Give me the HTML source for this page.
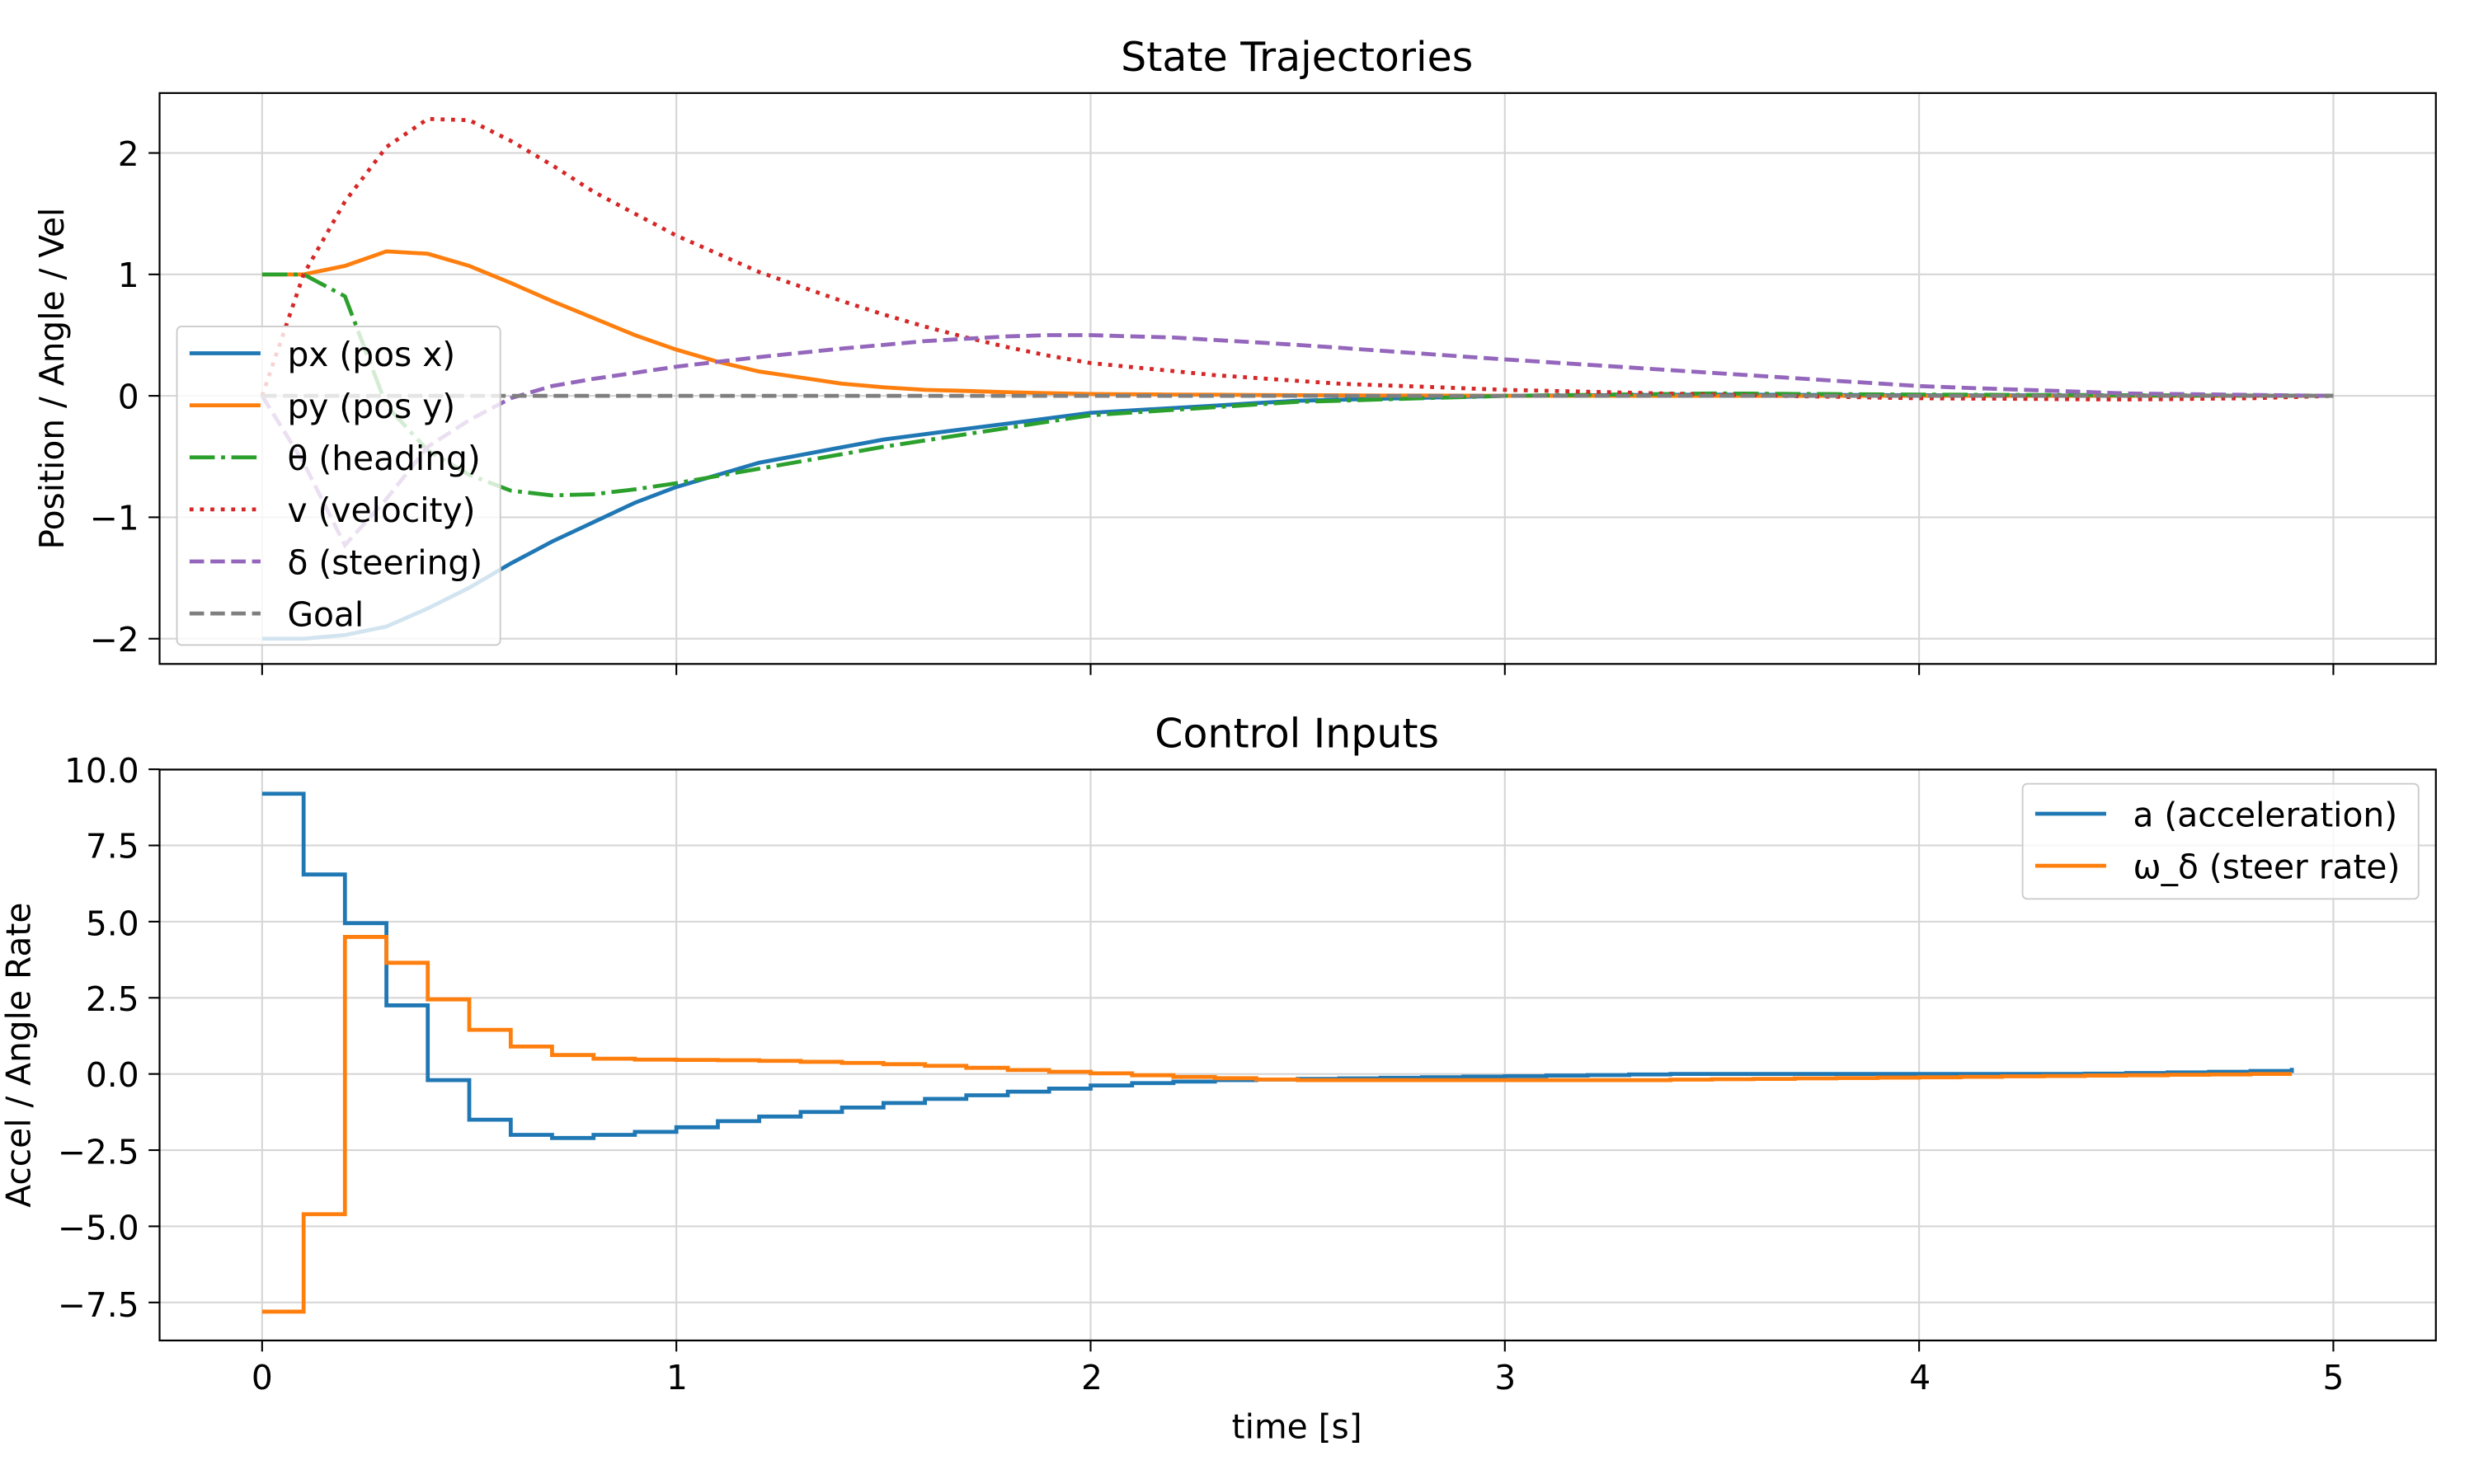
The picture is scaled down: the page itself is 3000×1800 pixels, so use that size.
<!DOCTYPE html>
<html><head><meta charset="utf-8"><style>html,body{margin:0;padding:0;background:#fff}svg{display:block}</style></head>
<body>
<svg id="s" width="3000" height="1800" viewBox="0 0 1568 941" xmlns="http://www.w3.org/2000/svg" font-family="'DejaVu Sans', sans-serif">
<rect width="1568" height="941" fill="#fff"/>
<g id="grid" stroke="#d6d6d6" stroke-width="1.1"></g>
<g id="series" fill="none" stroke-width="2.5"></g>
<g fill="none" stroke="#000" stroke-width="1.15">
<rect x="101" y="59" width="1443" height="362"/>
<rect x="101" y="488" width="1443" height="362"/>
</g>
<g id="ticks" stroke="#000" stroke-width="1.1"></g>
<g font-size="21.3" fill="#000">
<g text-anchor="end">
<text x="88" y="105">2</text><text x="88" y="182">1</text><text x="88" y="259">0</text><text x="88" y="336">−1</text><text x="88" y="413">−2</text>
<text x="88" y="496">10.0</text><text x="88" y="544">7.5</text><text x="88" y="593">5.0</text><text x="88" y="641">2.5</text><text x="88" y="689">0.0</text><text x="88" y="738">−2.5</text><text x="88" y="786">−5.0</text><text x="88" y="835">−7.5</text>
</g>
<g text-anchor="middle">
<text x="166" y="881">0</text><text x="429" y="881">1</text><text x="692" y="881">2</text><text x="954" y="881">3</text><text x="1217" y="881">4</text><text x="1479" y="881">5</text>
<text x="822" y="912">time [s]</text>
<text transform="translate(40,240) rotate(-90)">Position / Angle / Vel</text>
<text transform="translate(19,669) rotate(-90)">Accel / Angle Rate</text>
</g>
<g text-anchor="middle" font-size="25.6">
<text x="822" y="45">State Trajectories</text>
<text x="822" y="474">Control Inputs</text>
</g>
</g>
<g id="leg1">
<rect x="112" y="207" width="205" height="202" rx="3" fill="#fff" fill-opacity="0.8" stroke="#cccccc" stroke-width="1"/>
</g>
<g id="leg2">
<rect x="1282" y="497" width="251" height="73" rx="3" fill="#fff" fill-opacity="0.8" stroke="#cccccc" stroke-width="1"/>
</g>
<g font-size="21.3" fill="#000">
<text x="182" y="232">px (pos x)</text>
<text x="182" y="265">py (pos y)</text>
<text x="182" y="298">θ (heading)</text>
<text x="182" y="331">v (velocity)</text>
<text x="182" y="364">δ (steering)</text>
<text x="182" y="397">Goal</text>
<text x="1352" y="524">a (acceleration)</text>
<text x="1352" y="557">ω_δ (steer rate)</text>
</g>
<g id="legl" fill="none" stroke-width="2.5"></g>
</svg>
<script>
const NS="http://www.w3.org/2000/svg";
function el(p,tag,a){const e=document.createElementNS(NS,tag);for(const k in a)e.setAttribute(k,a[k]);document.getElementById(p).appendChild(e);return e;}
const X=t=>166+262.6*t, Y1=v=>251-77*v, Y2=v=>681-19.32*v;
for(let t=0;t<=5;t++){el('grid','line',{x1:X(t),x2:X(t),y1:59,y2:421});el('grid','line',{x1:X(t),x2:X(t),y1:488,y2:850});
 el('ticks','line',{x1:X(t),x2:X(t),y1:421,y2:428});el('ticks','line',{x1:X(t),x2:X(t),y1:850,y2:857});}
for(let v=-2;v<=2;v++){el('grid','line',{x1:101,x2:1544,y1:Y1(v),y2:Y1(v)});el('ticks','line',{x1:94,x2:101,y1:Y1(v),y2:Y1(v)});}
for(let v=-7.5;v<=10;v+=2.5){el('grid','line',{x1:101,x2:1544,y1:Y2(v),y2:Y2(v)});el('ticks','line',{x1:94,x2:101,y1:Y2(v),y2:Y2(v)});}
function interp(pts){const out=[];for(let i=0;i<=50;i++){const t=i/10;let j=0;while(j<pts.length-2&&pts[j+1][0]<t)j++;
 const [t0,v0]=pts[j],[t1,v1]=pts[j+1];const f=t1==t0?0:(t-t0)/(t1-t0);out.push([t,v0+(v1-v0)*Math.max(0,Math.min(1,f))]);}return out;}
function line(pts,col,dash){const p=interp(pts).map(q=>X(q[0]).toFixed(1)+','+Y1(q[1]).toFixed(1)).join(' ');
 const a={points:p,stroke:col};if(dash)a['stroke-dasharray']=dash;el('series','polyline',a);}
line([[0,-2],[0.1,-2],[0.2,-1.97],[0.3,-1.9],[0.4,-1.75],[0.5,-1.58],[0.6,-1.38],[0.7,-1.2],[0.8,-1.04],[0.9,-0.88],[1,-0.75],[1.2,-0.55],[1.5,-0.36],[2,-0.14],[2.5,-0.04],[3,0],[3.5,0.01],[4,0.005],[5,0]],'#1f77b4');
line([[0,1],[0.1,1],[0.2,1.07],[0.3,1.19],[0.4,1.17],[0.5,1.07],[0.6,0.93],[0.7,0.78],[0.8,0.64],[0.9,0.5],[1,0.38],[1.1,0.28],[1.2,0.2],[1.3,0.15],[1.4,0.1],[1.5,0.07],[1.6,0.05],[1.8,0.03],[2,0.015],[2.5,0.005],[3,0],[5,0]],'#ff7f0e');
line([[0,1],[0.1,1],[0.2,0.82],[0.3,-0.08],[0.4,-0.45],[0.5,-0.65],[0.6,-0.78],[0.7,-0.82],[0.8,-0.81],[0.9,-0.77],[1,-0.72],[1.2,-0.6],[1.5,-0.42],[2,-0.16],[2.5,-0.05],[3,0],[3.5,0.02],[4,0.01],[5,0]],'#2ca02c','16,4,2.5,4');
line([[0,0],[0.1,1.0],[0.2,1.6],[0.3,2.05],[0.4,2.28],[0.5,2.27],[0.6,2.1],[0.7,1.9],[0.8,1.68],[0.9,1.5],[1,1.32],[1.1,1.17],[1.2,1.02],[1.3,0.9],[1.4,0.78],[1.5,0.67],[1.6,0.57],[1.7,0.48],[1.8,0.4],[1.9,0.33],[2,0.27],[2.3,0.17],[2.6,0.1],[3,0.05],[3.5,0.01],[4,-0.02],[4.5,-0.03],[4.8,-0.02],[5,0]],'#d62728','2.5,4.1');
line([[0,0],[0.1,-0.55],[0.2,-1.23],[0.3,-0.85],[0.4,-0.42],[0.5,-0.2],[0.6,-0.02],[0.7,0.08],[0.8,0.14],[1,0.24],[1.2,0.32],[1.4,0.39],[1.6,0.45],[1.8,0.49],[1.9,0.5],[2,0.5],[2.2,0.48],[2.5,0.42],[3,0.3],[3.5,0.19],[4,0.08],[4.5,0.02],[5,0]],'#9467bd','9.2,4');
el('series','line',{x1:X(0),x2:X(5),y1:Y1(0),y2:Y1(0),stroke:'#7f7f7f','stroke-dasharray':'9.2,4'});
function steps(vals,col,endv){let p='';vals.forEach((v,i)=>{p+=(i?'L':'M')+X(i/10).toFixed(1)+','+Y2(v).toFixed(1)+'L'+X((i+1)/10).toFixed(1)+','+Y2(v).toFixed(1);});
 p+='L'+X(vals.length/10).toFixed(1)+','+Y2(endv).toFixed(1);
 el('series','path',{d:p,stroke:col});}
let a=[9.2,6.55,4.95,2.25,-0.2,-1.5,-2.0,-2.1,-2.0,-1.9,-1.75,-1.55,-1.4,-1.25,-1.1,-0.95,-0.82,-0.7,-0.58,-0.48,-0.38,-0.3,-0.25,-0.2,-0.18];
while(a.length<49){const k=a.length;const v=-0.18+0.18*(k-24)/10;a.push(v>0?0:v);}
a[44]=0.01;a[45]=0.03;a[46]=0.05;a[47]=0.07;a[48]=0.1;
let w=[-7.8,-4.6,4.5,3.65,2.45,1.45,0.9,0.62,0.5,0.47,0.46,0.45,0.43,0.4,0.36,0.32,0.27,0.2,0.13,0.07,0.02,-0.04,-0.1,-0.14,-0.18];
for(let k=25;k<49;k++){w.push(k<33?-0.2:-0.2+0.2*(k-33)/15);}
steps(a,'#1f77b4',0.2);steps(w,'#ff7f0e',0);
const L=[['#1f77b4',''],['#ff7f0e',''],['#2ca02c','16,4,2.5,4'],['#d62728','2.5,4.1'],['#9467bd','9.2,4'],['#7f7f7f','9.2,4']];
L.forEach((l,i)=>{const y=224+33*i;const o={x1:120,x2:165,y1:y,y2:y,stroke:l[0]};if(l[1])o['stroke-dasharray']=l[1];el('legl','line',o);});
el('legl','line',{x1:1290,x2:1335,y1:516,y2:516,stroke:'#1f77b4'});
el('legl','line',{x1:1290,x2:1335,y1:549,y2:549,stroke:'#ff7f0e'});
</script>
</body></html>
